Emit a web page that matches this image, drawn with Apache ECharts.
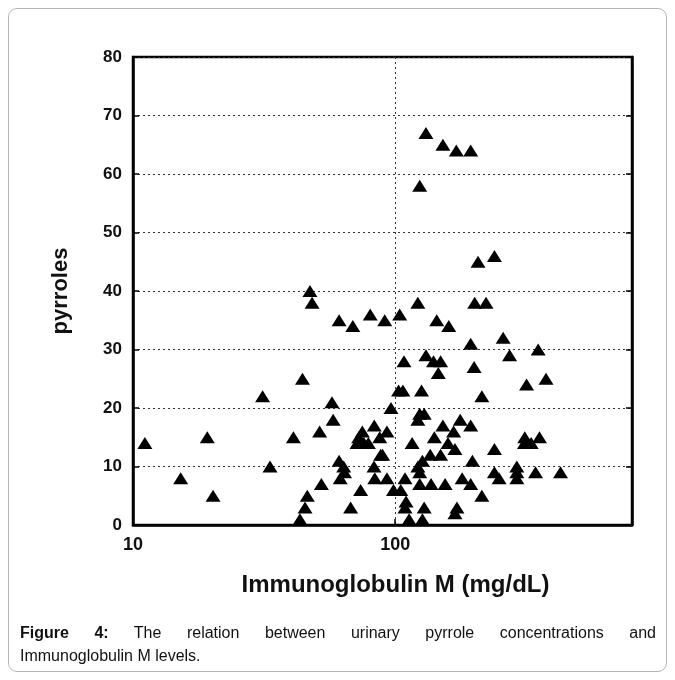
<!DOCTYPE html>
<html>
<head>
<meta charset="utf-8">
<script src="https://cdn.jsdelivr.net/npm/echarts@6/dist/echarts.min.js"></script>
<style>
  html, body { margin: 0; padding: 0; background: #fff; }
  #wrap { position: relative; width: 675px; height: 680px; }
  #main { position: absolute; left: 0; top: 0; width: 675px; height: 680px; }
  #card {
    position: absolute; left: 8px; top: 8px; width: 657px; height: 662px;
    border: 1px solid #b5b5b5; border-radius: 9px; pointer-events: none;
  }
  #caption {
    position: absolute; left: 20px; top: 621px; width: 636px;
    font-family: Arial, "Liberation Sans", sans-serif; font-size: 16px;
    line-height: 23px; color: #111;
  }
  #caption .l1 { text-align: justify; text-align-last: justify; }
</style>
</head>
<body>
<div id="wrap">
  <div id="main"></div>
  <div id="card"></div>
  <div id="caption">
    <div class="l1"><b>Figure 4:</b> The relation between urinary pyrrole concentrations and</div>
    <div>Immunoglobulin M levels.</div>
  </div>
</div>
<script>
// 数据：IgM (mg/dL) 与 pyrroles，按下标一一对应
var igm = [11.1, 15.2, 19.2, 20.2, 31.2, 33.3, 40.9, 43.3, 44.3, 45.3,
    46.2, 47.3, 48.2, 51.5, 52.3, 57.4, 58.0, 61.1, 61.1, 61.7,
    63.6, 64.1, 67.6, 68.9, 71.5, 72.6, 73.8, 74.9, 76.0, 80.3,
    79.0, 83.2, 83.0, 83.6, 87.3, 88.0, 89.5, 91.2, 93.0, 93.0,
    96.4, 98.5, 104, 103, 107, 105, 108, 109, 110, 109,
    113, 116, 122, 124, 122, 124, 122, 124, 124, 126,
    127, 129, 127, 129, 131, 131, 136, 137, 140, 141,
    144, 146, 149, 149, 152, 152, 155, 160, 159, 167,
    169, 171, 169, 172, 177, 180, 194, 194, 194, 194,
    197, 200, 201, 207, 214, 214, 222, 239, 239, 239,
    249, 258, 273, 291, 291, 291, 312, 311, 317, 330,
    343, 351, 355, 376, 427];
var pyrroles = [14, 8, 15, 5, 22, 10, 15, 1, 25, 3,
    5, 40, 38, 16, 7, 21, 18, 35, 11, 8,
    10, 9, 3, 34, 14, 15, 6, 16, 14, 36,
    14, 17, 10, 8, 15, 12, 12, 35, 16, 8,
    20, 6, 36, 23, 23, 6, 28, 8, 4, 3,
    1, 14, 38, 58, 18, 19, 10, 9, 7, 23,
    11, 19, 1, 3, 67, 29, 12, 7, 28, 15,
    35, 26, 28, 12, 65, 17, 7, 34, 14, 16,
    13, 64, 2, 3, 18, 8, 64, 31, 7, 17,
    11, 27, 38, 45, 22, 5, 38, 46, 13, 9,
    8, 32, 29, 10, 9, 8, 15, 14, 24, 14,
    9, 30, 15, 25, 9];
var xTickLabels = [10, 100];
var yTicks = [0, 10, 20, 30, 40, 50, 60, 70, 80];

var font = 'Arial, "Liberation Sans", sans-serif';
var points = igm.map(function (v, i) { return [v, pyrroles[i]]; });

var chart = echarts.init(document.getElementById('main'), null, { renderer: 'canvas' });

var option = {
    backgroundColor: 'transparent',
    animation: false,
    grid: {
        left: 133, right: 43, top: 57, bottom: 155,
        show: true,
        borderColor: '#000',
        borderWidth: 2.5
    },
    xAxis: {
        type: 'log',
        logBase: 10,
        min: 10,
        max: 800,
        name: 'Immunoglobulin M (mg/dL)',
        nameLocation: 'middle',
        nameGap: 48,
        nameTextStyle: {
            fontFamily: font, fontWeight: 'bold', fontSize: 24, color: '#111',
            padding: [0, 0, 0, 26]
        },
        axisLine: { show: true, lineStyle: { color: '#000', width: 2.5 } },
        axisTick: { show: true, inside: true, length: 6, lineStyle: { color: '#000', width: 1.5 } },
        axisLabel: {
            margin: 11,
            fontFamily: font, fontWeight: 'bold', fontSize: 18, color: '#111',
            formatter: function (v) {
                // 只显示 10、100
                for (var i = 0; i < xTickLabels.length; i++) {
                    if (Math.abs(v - xTickLabels[i]) < 1e-6 * xTickLabels[i]) return String(xTickLabels[i]);
                }
                return '';
            }
        },
        splitLine: { show: true, lineStyle: { color: '#333', width: 1, type: [2, 3] } },
        minorTick: { show: false }
    },
    yAxis: [
        {
            type: 'value',
            min: yTicks[0],
            max: yTicks[yTicks.length - 1],
            interval: 10,
            name: 'pyrroles',
            nameLocation: 'middle',
            nameGap: 61,
            nameRotate: 90,
            nameTextStyle: { fontFamily: font, fontWeight: 'bold', fontSize: 22, color: '#111' },
            axisLine: { show: true, lineStyle: { color: '#000', width: 2.5 } },
            axisTick: { show: true, inside: true, length: 6, lineStyle: { color: '#000', width: 1.5 } },
            axisLabel: { margin: 11, fontFamily: font, fontWeight: 'bold', fontSize: 17, color: '#111' },
            splitLine: { show: true, lineStyle: { color: '#333', width: 1, type: [2, 3] } }
        },
        {
            // 右侧刻度
            type: 'value',
            position: 'right',
            min: yTicks[0],
            max: yTicks[yTicks.length - 1],
            interval: 10,
            axisLine: { show: true, lineStyle: { color: '#000', width: 2.5 } },
            axisTick: { show: true, inside: true, length: 6, lineStyle: { color: '#000', width: 1.5 } },
            axisLabel: { show: false },
            splitLine: { show: false }
        }
    ],
    series: [
        {
            type: 'scatter',
            data: points,
            symbol: 'triangle',
            symbolSize: [15, 12],
            itemStyle: { color: '#000', opacity: 1 },
            clip: false
        }
    ]
};

chart.setOption(option);
</script>
</body>
</html>
